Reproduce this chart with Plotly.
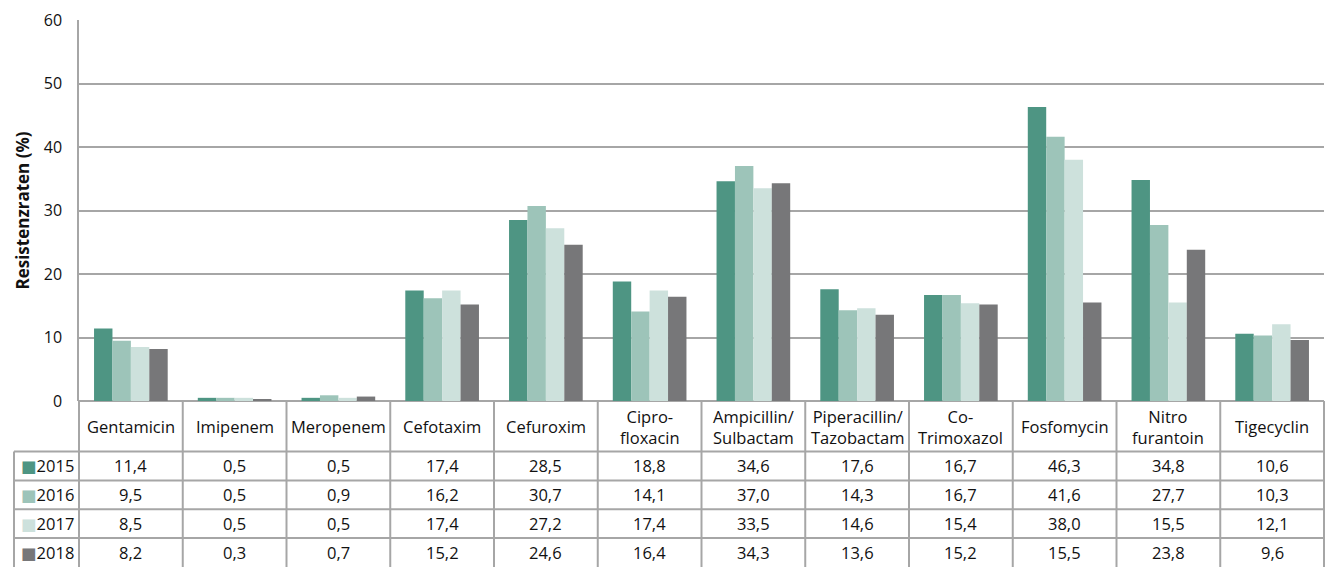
import plotly.graph_objects as go

# Antibiotics (table header labels; <br> marks the line breaks)
antibiotics = ["Gentamicin", "Imipenem", "Meropenem", "Cefotaxim", "Cefuroxim",
               "Cipro-<br>floxacin", "Ampicillin/<br>Sulbactam", "Piperacillin/<br>Tazobactam",
               "Co-<br>Trimoxazol", "Fosfomycin", "Nitro<br>furantoin", "Tigecyclin"]
categories = [a.replace("<br>", " ") for a in antibiotics]

years = ["2015", "2016", "2017", "2018"]
res_2015 = [11.4, 0.5, 0.5, 17.4, 28.5, 18.8, 34.6, 17.6, 16.7, 46.3, 34.8, 10.6]
res_2016 = [9.5, 0.5, 0.9, 16.2, 30.7, 14.1, 37.0, 14.3, 16.7, 41.6, 27.7, 10.3]
res_2017 = [8.5, 0.5, 0.5, 17.4, 27.2, 17.4, 33.5, 14.6, 15.4, 38.0, 15.5, 12.1]
res_2018 = [8.2, 0.3, 0.7, 15.2, 24.6, 16.4, 34.3, 13.6, 15.2, 15.5, 23.8, 9.6]
series = [res_2015, res_2016, res_2017, res_2018]
colors = ["#4E9583", "#9DC4B9", "#CDE1DC", "#777779"]

FONT = "Open Sans, Noto Sans, DejaVu Sans, sans-serif"
TXT = "#111111"
LINE = "#A6A6A6"

W, H = 1333, 567
M_L, M_R, M_T, M_B = 79, 9, 17, 166
plot_h = H - M_T - M_B
plot_w = W - M_L - M_R


def py(px_below_axis):
    """paper y for a distance in pixels below the x axis"""
    return -px_below_axis / plot_h


def px(px_left_of_axis):
    """paper x for a distance in pixels left of the plot area"""
    return -px_left_of_axis / plot_w


fig = go.Figure()
for yr, vals, col in zip(years, series, colors):
    fig.add_trace(go.Bar(name=yr, x=categories, y=vals, marker=dict(color=col, line=dict(width=0))))

# --- data table under the chart ---
header_h, row_h = 51, 29
label_col_w = 65
shapes = []
annotations = []

# horizontal rules (header bottom and row separators)
for r in range(len(years)):
    y = py(header_h + r * row_h)
    shapes.append(dict(type="line", xref="paper", yref="paper", x0=px(label_col_w), x1=1,
                       y0=y, y1=y, line=dict(color=LINE, width=2)))
# vertical rules at category boundaries
n = len(categories)
for i in range(n + 1):
    shapes.append(dict(type="line", xref="x domain", yref="paper", x0=i / n, x1=i / n,
                       y0=0, y1=py(M_B + 2), line=dict(color=LINE, width=2)))
# left edge of the series-label column
shapes.append(dict(type="line", xref="paper", yref="paper", x0=px(label_col_w), x1=px(label_col_w),
                   y0=py(header_h), y1=py(M_B + 2), line=dict(color=LINE, width=2)))

for cat, head in zip(categories, antibiotics):
    annotations.append(dict(x=cat, xref="x", y=py(header_h / 2 + 0.5), yref="paper", text=head,
                            showarrow=False, xanchor="center", yanchor="middle",
                            font=dict(family=FONT, size=16.5, color=TXT)))

for r, (yr, vals, col) in enumerate(zip(years, series, colors)):
    yc = py(header_h + r * row_h + row_h / 2)
    annotations.append(dict(x=px(label_col_w - 5), xref="paper", y=yc, yref="paper",
                            text=f"<span style='color:{col}'>■</span>{yr}",
                            showarrow=False, xanchor="left", yanchor="middle",
                            font=dict(family=FONT, size=16.5, color=TXT)))
    for cat, v in zip(categories, vals):
        annotations.append(dict(x=cat, xref="x", y=yc, yref="paper",
                                text=f"{v:.1f}".replace(".", ","),
                                showarrow=False, xanchor="center", yanchor="middle",
                                font=dict(family=FONT, size=16.5, color=TXT)))

fig.update_layout(
    width=W, height=H,
    margin=dict(l=M_L, r=M_R, t=M_T, b=M_B),
    paper_bgcolor="white", plot_bgcolor="white",
    barmode="group", bargap=0.29, bargroupgap=0,
    showlegend=False,
    font=dict(family=FONT, color=TXT),
    shapes=shapes, annotations=annotations,
    xaxis=dict(showticklabels=False, showgrid=False, zeroline=False, showline=False,
               range=[-0.5, n - 0.5], fixedrange=True),
    yaxis=dict(range=[0, 60], dtick=10, showgrid=True, gridcolor=LINE, gridwidth=1.5,
               showline=True, linecolor=LINE, linewidth=1.5, zeroline=True,
               zerolinecolor=LINE, zerolinewidth=1.5, ticks="",
               ticklabelstandoff=12, tickfont=dict(size=16, color=TXT),
               title=dict(text="<b>Resistenzraten (%)</b>", standoff=10,
                          font=dict(size=17, color=TXT)),
               fixedrange=True),
)

fig.write_html("out.html")
